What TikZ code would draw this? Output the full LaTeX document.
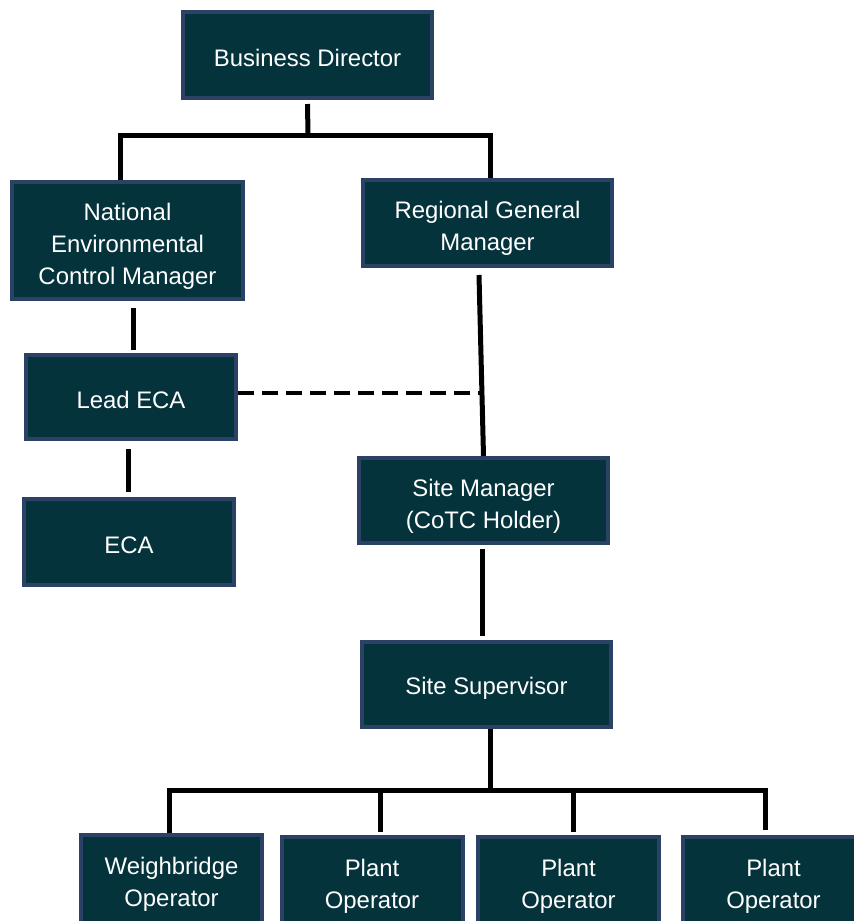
\documentclass[tikz,border=0pt]{standalone}
\usepackage{fontspec}
\setmainfont{Liberation Sans}
\usepackage{tikz}
\usetikzlibrary{positioning,calc}
\definecolor{boxfill}{RGB}{4,51,60}
\definecolor{boxedge}{RGB}{43,66,102}
\newcommand{\lift}[1][16pt]{\rule{0pt}{#1}}
\tikzset{
  role/.style={draw=boxedge,line width=0.08cm,fill=boxfill,text=white,align=center,inner sep=2pt,
    minimum width=4.98cm,minimum height=1.72cm,font=\fontsize{13.6}{18.2}\selectfont},
  crew/.style={role,minimum width=3.62cm,minimum height=1.92cm},
  link/.style={draw=black,line width=0.1cm},
  dotted link/.style={draw=black,line width=0.08cm,dash pattern=on 0.32cm off 0.16cm}
}

\begin{document}
\begin{tikzpicture}
  \useasboundingbox (0,0) rectangle (17.06,-18.42);

  \node[role] (bd) at (6.15,-1.10) {\lift[13pt]Business Director};
  \node[role,minimum width=4.62cm,minimum height=2.34cm] (necm) at (2.55,-4.81) {\lift National\\Environmental\\Control Manager};
  \node[role] (rgm) at (9.75,-4.46) {\lift Regional General\\Manager};
  \node[role,minimum width=4.20cm,minimum height=1.68cm] (lead) at (2.62,-7.94) {\lift[13pt]Lead ECA};
  \node[role,minimum width=4.20cm] (eca) at (2.58,-10.84) {\lift[13pt]ECA};
  \node[role,minimum height=1.70cm] (sm) at (9.67,-10.01) {\lift Site Manager\\(CoTC Holder)};
  \node[role,minimum height=1.70cm] (sup) at (9.73,-13.69) {\lift[14pt]Site Supervisor};
  \node[crew] (wb) at (3.43,-17.66) {\lift[11.6pt]Weighbridge\\Operator};
  \node[crew] (po1) at (7.44,-17.70) {\lift[11.6pt]Plant\\Operator};
  \node[crew] (po2) at (11.37,-17.70) {\lift[11.6pt]Plant\\Operator};
  \node[crew] (po3) at (15.47,-17.70) {\lift[11.6pt]Plant\\Operator};

  \coordinate (bdj) at (6.16,-2.70);
  \coordinate (dj) at (9.62,-7.86);
  \coordinate (busj) at (9.80,-15.80);

  % top level
  \draw[link] ([yshift=-0.08cm]bd.south) -- (bdj);
  \draw[link] ([xshift=-0.15cm]necm.north) |- (bdj) -| ([xshift=0.05cm]rgm.north);

  % environmental side
  \draw[link] ([xshift=0.04cm,yshift=-0.14cm]necm.south -| lead.north) -- ([xshift=0.04cm,yshift=0.06cm]lead.north);
  \draw[link] ([xshift=-0.02cm,yshift=-0.16cm]eca.north |- lead.south) -- ([xshift=-0.02cm,yshift=0.10cm]eca.north);
  \draw[dotted link] ([yshift=0.08cm]lead.east) -- (dj);

  % site side
  \draw[link] ([xshift=-0.17cm,yshift=-0.14cm]rgm.south) -- (sm.north);
  \draw[link] ([xshift=-0.03cm,yshift=-0.08cm]sm.south) -- ([xshift=-0.03cm,yshift=0.08cm]sm.south |- sup.north);
  \draw[link] ([xshift=0.07cm]sup.south) -- (busj);
  \draw[link] ([xshift=-0.04cm]wb.north) |- (busj) -| ([xshift=-0.17cm,yshift=0.10cm]po3.north);
  \foreach \n/\dx in {po1/0.16,po2/0.09}
    \draw[link] ([xshift=\dx cm]\n.north |- busj) -- ([xshift=\dx cm,yshift=0.06cm]\n.north);
\end{tikzpicture}
\end{document}
